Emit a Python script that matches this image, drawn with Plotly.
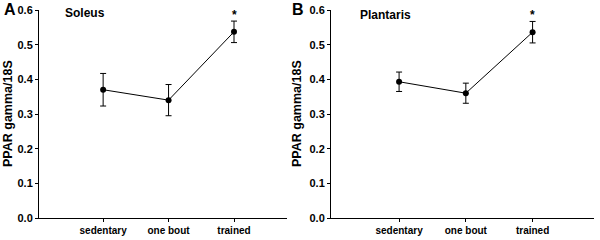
import plotly.graph_objects as go

categories = ["sedentary", "one bout", "trained"]
soleus_mean = [0.370, 0.340, 0.537]
soleus_err = [0.047, 0.045, 0.031]
plantaris_mean = [0.393, 0.360, 0.536]
plantaris_err = [0.028, 0.029, 0.031]
y_ticks = [0.0, 0.1, 0.2, 0.3, 0.4, 0.5, 0.6]
y_ticktext = ["0.0", "0.1", "0.2", "0.3", "0.4", "0.5", "0.6"]
y_title = "PPAR gamma/18S"

W, H = 600, 240
xpos = list(range(len(categories)))

fig = go.Figure()

def add_panel(mean, err, xa, ya):
    fig.add_trace(go.Scatter(
        x=xpos, y=mean, mode="lines+markers",
        line=dict(color="black", width=1),
        marker=dict(color="black", size=6),
        error_y=dict(type="data", array=err, visible=True, color="black", thickness=1, width=3),
        xaxis=xa, yaxis=ya, showlegend=False, hoverinfo="skip",
    ))

add_panel(soleus_mean, soleus_err, "x", "y")
add_panel(plantaris_mean, plantaris_err, "x2", "y2")

y0 = (H - 218) / H
y1 = (H - 10) / H

tickfont = dict(family="Arial", size=11, color="black", weight="bold")
xtickfont = dict(family="Arial", size=10, color="black", weight="bold")

def xaxis(domain, rng, anchor):
    return dict(domain=domain, range=rng, anchor=anchor, automargin=False,
                tickvals=xpos, ticktext=categories, ticks="outside", ticklen=3,
                tickcolor="black", showline=True, linecolor="black", linewidth=1,
                showgrid=False, zeroline=False, tickfont=xtickfont, fixedrange=True)

def yaxis(anchor):
    return dict(domain=[y0, y1], range=[0, 0.6], anchor=anchor, automargin=False,
                tickvals=y_ticks, ticktext=y_ticktext, ticks="outside", ticklen=3,
                tickcolor="black", showline=True, linecolor="black", linewidth=1,
                showgrid=False, zeroline=False, tickfont=tickfont, fixedrange=True)

fig.update_layout(
    width=W, height=H, margin=dict(l=0, r=0, t=0, b=0, autoexpand=False),
    paper_bgcolor="white", plot_bgcolor="white",
    xaxis=xaxis([39 / W, 287 / W], [-0.98, 2.81], "y"),
    yaxis=yaxis("x"),
    xaxis2=xaxis([331 / W, 594 / W], [-1.02, 2.92], "y2"),
    yaxis2=yaxis("x2"),
)

ann_font = dict(family="Arial", size=12, color="black", weight="bold")
annotations = [
    dict(text="A", x=2 / W, y=(H - 10) / H, xanchor="left", yanchor="middle",
         font=dict(family="Arial", size=16, color="black", weight="bold")),
    dict(text="B", x=290 / W, y=(H - 10) / H, xanchor="left", yanchor="middle",
         font=dict(family="Arial", size=16, color="black", weight="bold")),
    dict(text=y_title, x=8 / W, y=(H - 114) / H, textangle=-90, xanchor="center", yanchor="middle",
         font=dict(family="Arial", size=12.5, color="black", weight="bold")),
    dict(text=y_title, x=297 / W, y=(H - 114) / H, textangle=-90, xanchor="center", yanchor="middle",
         font=dict(family="Arial", size=12.5, color="black", weight="bold")),
    dict(text="Soleus", x=63 / W, y=(H - 13) / H, xanchor="left", yanchor="middle", font=ann_font),
    dict(text="Plantaris", x=358 / W, y=(H - 15) / H, xanchor="left", yanchor="middle", font=ann_font),
]
for a in annotations:
    a.update(xref="paper", yref="paper", showarrow=False)
fig.update_layout(annotations=annotations)

# significance stars above trained
for xa, ya in (("x", "y"), ("x2", "y2")):
    fig.add_annotation(text="*", x=2, y=0.585, xref=xa, yref=ya, showarrow=False,
                       font=dict(family="Arial", size=12, color="black", weight="bold"),
                       yanchor="middle")

fig.write_html("out.html", config={"displayModeBar": False, "staticPlot": True},
               post_script="document.body.style.margin='0';document.body.style.overflow='hidden';")
